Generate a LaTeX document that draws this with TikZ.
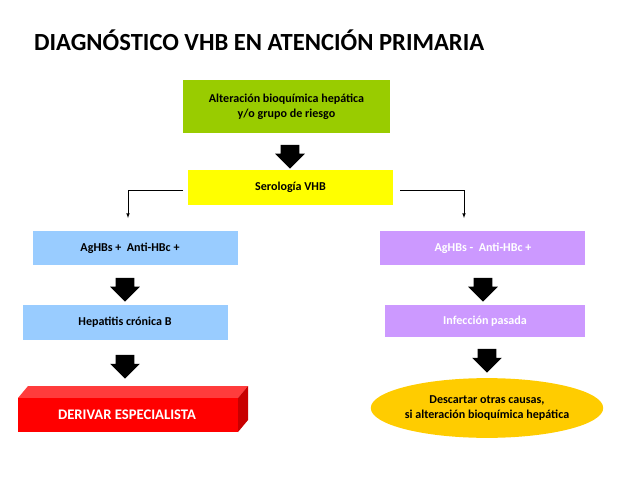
\documentclass[tikz,border=0pt]{standalone}
\usepackage{fontspec}
\setmainfont{Carlito}
\usetikzlibrary{shapes.geometric,shapes.arrows}
\definecolor{verde}{RGB}{153,204,0}
\definecolor{amarillo}{RGB}{255,255,0}
\definecolor{azul}{RGB}{153,204,255}
\definecolor{lila}{RGB}{204,153,255}
\definecolor{rojo}{RGB}{255,0,0}
\definecolor{rojoosc}{RGB}{200,0,0}
\definecolor{rojoclaro}{RGB}{255,60,60}
\definecolor{oro}{RGB}{255,204,0}
\begin{document}
\begin{tikzpicture}[x=0.03cm,y=-0.03cm,
    caja/.style={inner sep=0pt, font=\fontsize{10.3}{12.5}\selectfont\bfseries, align=center},
    flecha/.style={single arrow, fill=black, draw=none, shape border rotate=270,
        minimum width=30*0.85pt, single arrow head extend=3pt,
        minimum height=24*0.85pt, inner sep=5pt}]
    \useasboundingbox (0,0) rectangle (638,479);
    \node[anchor=west, font=\fontsize{21}{25}\selectfont\bfseries] (titulo) at (30,40)
        {DIAGNÓSTICO VHB EN ATENCIÓN PRIMARIA};
    % cajas
    \fill[verde] (183,80) rectangle (390,133);
    \node[caja] (alteracion) at (286.5,106.5) {Alteración bioquímica hepática\\y/o grupo de riesgo};
    \fill[amarillo] (188,170) rectangle (393,205);
    \node[caja] (serologia) at (290.5,187.5) {Serología VHB};
    \fill[azul] (33,231) rectangle (238,265);
    \node[caja] (positivo) at (130,248) {AgHBs +\ \ Anti-HBc +};
    \fill[lila] (380,231) rectangle (585,265);
    \node[caja, text=white] (negativo) at (483,248) {AgHBs -\ \ Anti-HBc +};
    \fill[azul] (23,305) rectangle (228,340);
    \node[caja] (hepatitis) at (125,322.5) {Hepatitis crónica B};
    \fill[lila] (385,305) rectangle (585,337);
    \node[caja, text=white] (pasada) at (485,321) {Infección pasada};
    % caja roja 3D
    \fill[rojoclaro] (18,398) -- (28,386) -- (248,386) -- (238,398) -- cycle;
    \fill[rojoosc] (238,398) -- (248,386) -- (248,420) -- (238,432) -- cycle;
    \fill[rojo] (18,398) rectangle (238,432);
    \node[caja, text=white, font=\fontsize{12.5}{15}\selectfont\bfseries] (derivar) at (127,415) {DERIVAR ESPECIALISTA};
    \node[ellipse, fill=oro, minimum width=180*0.85pt, minimum height=60*0.85pt,
        caja] (descartar) at (487,408) {Descartar otras causas,\\si alteración bioquímica hepática};
    % flechas
    \node[flecha] (f1) at (290,152) {};
    \node[flecha] (f2) at (125,285) {};
    \node[flecha] (f3) at (483,285) {};
    \node[flecha] (f4) at (125,362) {};
    \node[flecha] (f5) at (487,356) {};
    \coordinate (izq) at (183,190);
    \coordinate (der) at (400,190);
    \draw[-latex] (izq) -| (128,218);
    \draw[-latex] (der) -| (464,218);
\end{tikzpicture}
\end{document}
